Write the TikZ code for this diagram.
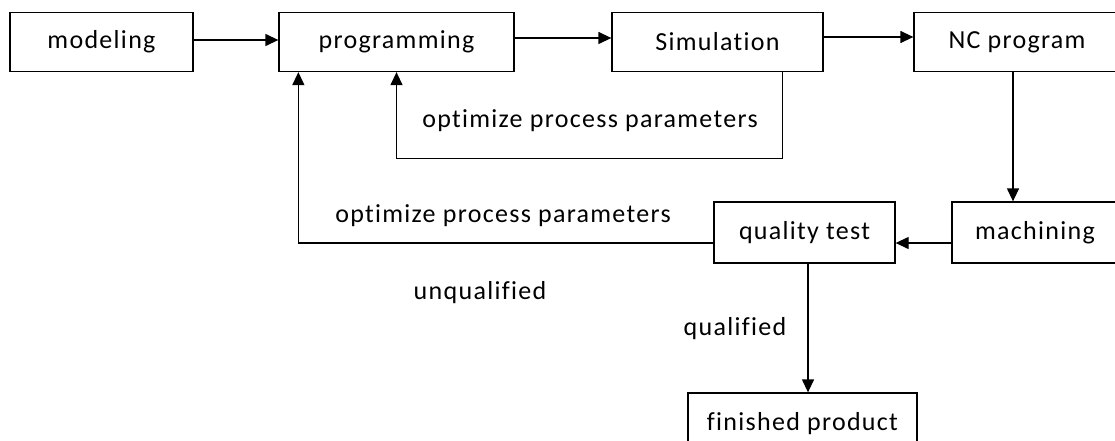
\documentclass[tikz,border=0pt]{standalone}
\usepackage{fontspec}
\setmainfont{Carlito}[Ligatures=NoCommon, LetterSpace=5]
\usetikzlibrary{arrows.meta}

\tikzset{
	box/.style={draw, line width=1.3pt, minimum height=59pt, inner sep=0pt, font=\fontsize{26}{31}\selectfont},
	lbl/.style={font=\fontsize{26}{31}\selectfont, inner sep=0pt},
	arr/.style={-{Triangle[length=13pt,width=12pt]}, line width=1.3pt},
	lin/.style={line width=1.3pt}
}

\begin{document}
\begin{tikzpicture}[x=1pt,y=-1pt]
		\useasboundingbox (0,0) rectangle (1115,441);
		% process boxes
		\node[box, minimum width=183pt] (model) at (101.5,42) {modeling};
		\node[box, minimum width=235pt] (prog) at (396.5,42) {programming};
		\node[box, minimum width=211pt] (sim) at (717.5,42) {Simulation};
		\node[box, minimum width=206pt] (nc) at (1017,42) {NC program};
		\node[box, minimum width=166pt, minimum height=61pt] (mach) at (1035,232.5) {machining};
		\node[box, minimum width=181pt, minimum height=61pt] (qual) at (804.5,232.5) {quality test};
		\node[box, minimum width=229pt, minimum height=62pt] (fin) at (802.5,424) {finished product};
		% labels
		\node[lbl] (opta) at (590,121) {optimize process parameters};
		\node[lbl] (optb) at (503,216) {optimize process parameters};
		\node[lbl] (unq) at (480,293) {unqualified};
		\node[lbl] (ok) at (735,329) {qualified};
		% main flow
		\draw[arr] ([yshift=2pt]model.east) -- ([yshift=2pt]prog.west);
		\draw[arr] ([yshift=4pt]prog.east) -- ([yshift=4pt]sim.west);
		\draw[arr] ([yshift=5pt]sim.east) -- ([yshift=5pt]nc.west);
		\draw[arr] ([xshift=-4pt]nc.south) -- ([xshift=-4pt]nc.south |- mach.north);
		\draw[arr] ([yshift=-10.5pt]mach.west) -- ([yshift=-10.5pt]qual.east);
		\draw[arr] ([xshift=3.5pt]qual.south) -- ([xshift=3.5pt]qual.south |- fin.north);
		% feedback loops
		\draw[arr] ([xshift=-41pt]sim.south east) -- ++(0,86) -| (prog.south);
		\draw[arr] ([yshift=-10.5pt]qual.west) -| ([xshift=20pt]prog.south west);
	\end{tikzpicture}
\end{document}
